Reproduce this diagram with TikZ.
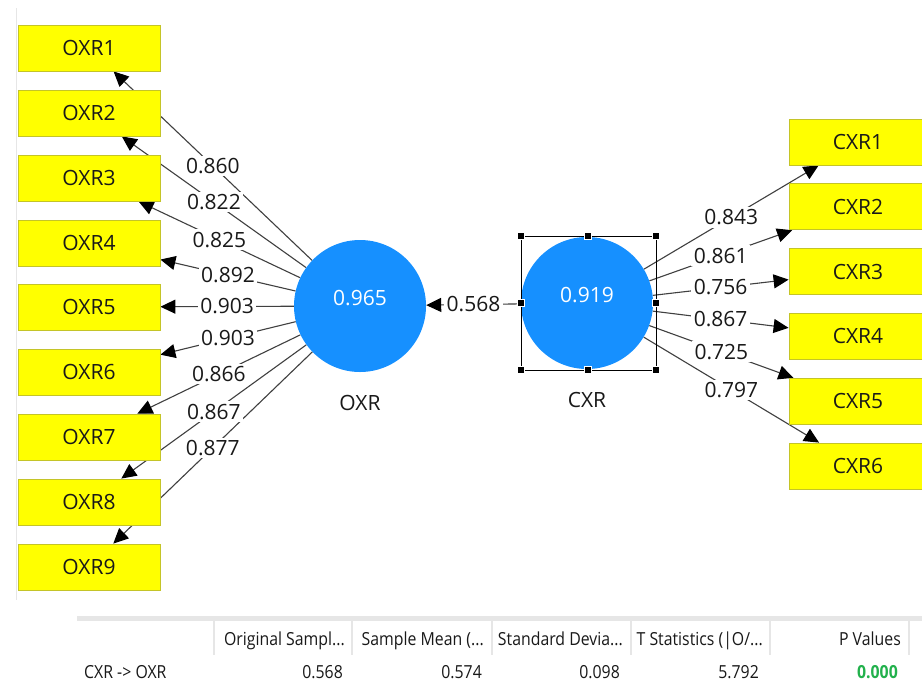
\documentclass[tikz,border=0pt]{standalone}
\usepackage{fontspec}
\setmainfont{Open Sans}
\newfontfamily\tabfont[FakeStretch=0.88]{Open Sans}
\usetikzlibrary{arrows.meta}
\pgfdeclarelayer{bg}
\pgfdeclarelayer{edges}
\pgfdeclarelayer{elabels}
\pgfsetlayers{bg,edges,elabels,main}
\definecolor{boxyellow}{RGB}{255,255,0}
\definecolor{boxborder}{RGB}{196,196,40}
\definecolor{lvblue}{RGB}{22,144,255}
\definecolor{edgegray}{RGB}{64,64,64}
\definecolor{txtdark}{RGB}{25,25,25}
\definecolor{pgreen}{RGB}{34,177,76}
\definecolor{sepgray}{RGB}{230,230,230}
\begin{document}
\begin{tikzpicture}[x=1pt,y=-1pt,
  indbox/.style={draw=boxborder, fill=boxyellow, line width=0.8pt, minimum width=142pt, minimum height=46pt, inner sep=0pt, font=\fontsize{21}{25}\selectfont, text=txtdark},
  rindbox/.style={indbox, minimum width=138pt},
  latent/.style={circle, fill=lvblue, minimum size=132pt, inner sep=0pt},
  circtext/.style={text=white, font=\fontsize{21}{25}\selectfont, yshift=8pt},
  lvname/.style={text=txtdark, font=\fontsize{21}{25}\selectfont, label distance=20pt},
  edgeline/.style={draw=edgegray, line width=1.1pt, -{Triangle[length=15pt,width=14pt,color=black]}},
  elabel/.style={fill=white, inner sep=2.5pt, font=\fontsize{21}{25}\selectfont, text=txtdark},
  tabtxt/.style={inner sep=0pt, font=\tabfont\fontsize{18}{21}\selectfont, text=txtdark},
  handle/.style={fill=black, draw=white, line width=0.6pt, minimum size=7pt, inner sep=0pt}
]
\useasboundingbox (0,0) rectangle (922,681);
\begin{pgfonlayer}{bg}
  \fill[white] (0,0) rectangle (922,681);
\end{pgfonlayer}
% left frame line
\draw[sepgray, line width=1pt] (16,8) -- (16,600);

% indicator boxes left
\foreach \i/\y in {1/48,2/113,3/178,4/243,5/307,6/372,7/437,8/502,9/567}
  \node[indbox] (o\i) at (89,\y) {OXR\i};
% indicator boxes right
\foreach \i/\y in {1/142,2/206.8,3/271.6,4/336.4,5/401.2,6/466}
  \node[rindbox] (c\i) at (858,\y) {CXR\i};

% latent variables
\node[latent, label={[circtext]center:0.965}, label={[lvname]below:OXR}] (OXR) at (360,306) {};
\node[latent, label={[circtext]center:0.919}, label={[lvname]below:CXR}] (CXR) at (587,303) {};

% selection frame around CXR
\draw[black, line width=1pt] (521,236) rectangle (656,370);
\foreach \hx/\hy [count=\k] in {521/236,588/236,656/236,521/303,656/303,521/370,588/370,656/370}
  \node[handle] (h\k) at (\hx,\hy) {};

% edges
\begin{pgfonlayer}{edges}
  \foreach \i in {1,...,9} \draw[edgeline] (OXR) -- (o\i);
  \foreach \i in {1,...,6} \draw[edgeline] (CXR) -- (c\i);
  \draw[edgeline] (CXR) -- (OXR);
\end{pgfonlayer}
\begin{pgfonlayer}{elabels}
  \foreach \i/\v in {1/0.860,2/0.822,3/0.825,4/0.892,5/0.903,6/0.903,7/0.866,8/0.867,9/0.877}
    \path (OXR) -- (o\i) node[elabel, midway] (lo\i) {\v};
  \foreach \i/\v in {1/0.843,2/0.861,3/0.756,4/0.867,5/0.725,6/0.797}
    \path (CXR) -- (c\i) node[elabel, midway] (lc\i) {\v};
  \path (CXR) -- (OXR) node[elabel, midway] (lpath) {0.568};
\end{pgfonlayer}

% results table
\fill[sepgray] (77,616) rectangle (922,621);
\foreach \sx in {214,352,492,631,770,909}
  \draw[sepgray, line width=1.2pt] (\sx,621) -- (\sx,655);
\node[tabtxt, anchor=base east] (t1) at (345,645) {Original Sampl...};
\node[tabtxt, anchor=base east] (t2) at (484,645) {Sample Mean (...};
\node[tabtxt, anchor=base east] (t3) at (623,645) {Standard Devia...};
\node[tabtxt, anchor=base east] (t4) at (763,645) {T Statistics (|O/...};
\node[tabtxt, anchor=base east] (t5) at (901,645) {P Values};
\node[tabtxt, anchor=base west] (r0) at (84,678) {CXR -> OXR};
\node[tabtxt, anchor=base east] (r1) at (343,678) {0.568};
\node[tabtxt, anchor=base east] (r2) at (482,678) {0.574};
\node[tabtxt, anchor=base east] (r3) at (620,678) {0.098};
\node[tabtxt, anchor=base east] (r4) at (759,678) {5.792};
\node[tabtxt, anchor=base east, text=pgreen, font=\tabfont\bfseries\fontsize{18}{21}\selectfont] (r5) at (898,678) {0.000};
\end{tikzpicture}
\end{document}
